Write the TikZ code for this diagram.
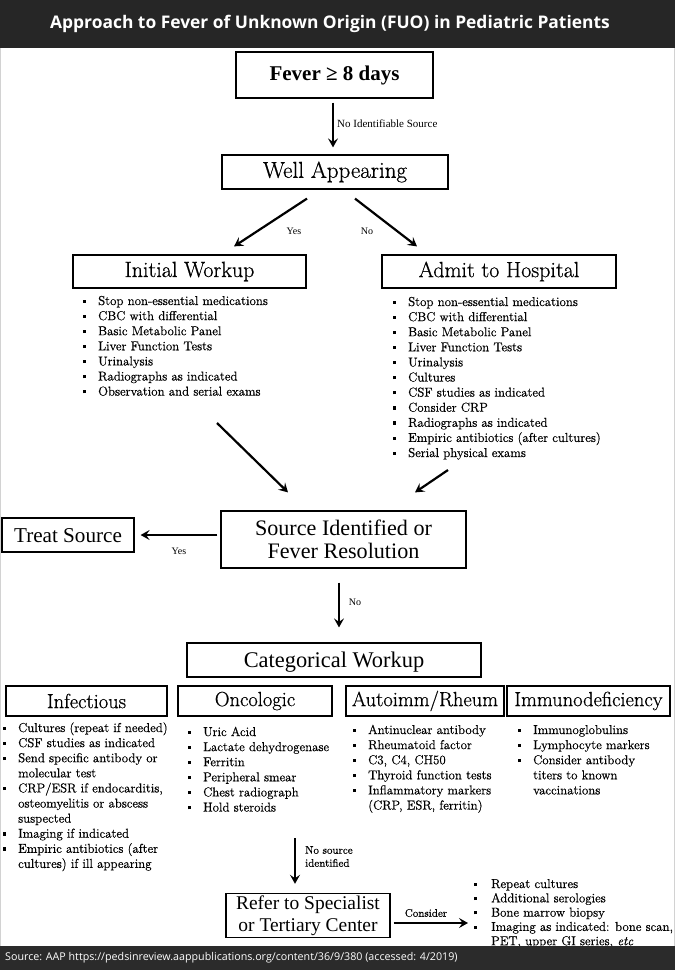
\documentclass[tikz,border=0pt]{standalone}
\usepackage{fontspec}
\newfontfamily\tms{Liberation Serif}
\newfontfamily\pal{Latin Modern Roman}[FakeBold=0.6]
\newfontfamily\osans{Open Sans}
\usetikzlibrary{arrows.meta,calc}
\newcommand\bu{\makebox[15pt][l]{\rule[2.2pt]{3pt}{3.2pt}}}
\newcommand\rbu{\makebox[17pt][l]{\rule[2.2pt]{3pt}{3.2pt}}}
\newcommand\cn{\hspace*{15pt}}
\newcommand\rcn{\hspace*{17pt}}
\newcommand\lstx[1]{\begin{tabular}[t]{@{}l@{}}#1\end{tabular}}
% Times-like text set at 14pt and scaled; #4 = downward shift of the ink
\newcommand\tsc[4]{\raisebox{-#4}[\height][\depth]{\scalebox{#1}{\tms\fontsize{14}{#2}\selectfont\begin{tabular}{@{}c@{}}#3\end{tabular}}}}
\begin{document}
\begin{tikzpicture}[x=1pt,y=-1pt,
  box/.style={draw=black, line width=1.2pt, inner sep=0pt, align=center},
  arr/.style={-{Stealth[length=9pt,width=10pt,inset=3.5pt]}, line width=2.2pt},
  lst/.style={anchor=base west, inner sep=0pt, font=\pal\fontsize{12.9}{15.1}\selectfont},
  lbl/.style={inner sep=0pt, font=\tms\fontsize{10}{12}\selectfont},
  hdp/.style={font=\pal\fontsize{22}{24}\selectfont},
  hdc/.style={font=\pal\fontsize{20.5}{22}\selectfont}]
\useasboundingbox (0,0) rectangle (675,970);
\fill[white] (0,0) rectangle (675,970);
\draw[gray!35, line width=0.8pt] (0.5,48) -- (0.5,946) (674.5,48) -- (674.5,946);
% title bar
\fill[black!85] (0,0) rectangle (675,48);
\node[text=white, font=\osans\bfseries\fontsize{17.4}{20}\selectfont] (title) at (330,24) {Approach to Fever of Unknown Origin (FUO) in Pediatric Patients};

% boxes
\node[box, minimum width=197pt, minimum height=46pt, font=\tms\bfseries\fontsize{21}{23}\selectfont] (fever) at (334.5,75) {Fever ≥ 8 days};
\node[box, minimum width=226pt, minimum height=34pt, font=\pal\fontsize{23}{25}\selectfont] (well) at (335,172) {Well Appearing};
\node[box, hdp, minimum width=233pt, minimum height=33pt] (init) at (189.5,271.5) {Initial Workup};
\node[box, hdp, minimum width=234pt, minimum height=33pt] (admit) at (499,271.5) {Admit to Hospital};
\node[box, minimum width=245pt, minimum height=57pt] (source) at (343.5,539.5) {\tsc{1.58}{14.6}{Source Identified or\\Fever Resolution}{2.6pt}};
\node[box, minimum width=132pt, minimum height=34pt] (treat) at (68,535) {\tsc{1.51}{15}{Treat Source}{2.5pt}};
\node[box, minimum width=294pt, minimum height=34pt] (cat) at (334,660) {\tsc{1.6}{15}{Categorical Workup}{2.5pt}};
\node[box, hdc, minimum width=161pt, minimum height=30pt] (inf) at (86.5,701) {Infectious};
\node[box, hdc, minimum width=154pt, minimum height=30pt] (onc) at (255,701) {Oncologic};
\node[box, hdc, minimum width=158pt, minimum height=30pt] (auto) at (425,701) {Autoimm/Rheum};
\node[box, hdc, minimum width=163pt, minimum height=30pt] (imm) at (588.5,701) {Immunodeficiency};
\node[box, minimum width=164pt, minimum height=43pt] (refer) at (308,915.5) {\tsc{1.39}{15.9}{Refer to Specialist\\or Tertiary Center}{0.5pt}};

% lists
\node[lst] (initl) at (83,305) {\lstx{\bu Stop non-essential medications\\
\bu CBC with differential\\
\bu Basic Metabolic Panel\\
\bu Liver Function Tests\\
\bu Urinalysis\\
\bu Radiographs as indicated\\
\bu Observation and serial exams}};
\node[lst] (admitl) at (393,306) {\lstx{\bu Stop non-essential medications\\
\bu CBC with differential\\
\bu Basic Metabolic Panel\\
\bu Liver Function Tests\\
\bu Urinalysis\\
\bu Cultures\\
\bu CSF studies as indicated\\
\bu Consider CRP\\
\bu Radiographs as indicated\\
\bu Empiric antibiotics (after cultures)\\
\bu Serial physical exams}};
\node[lst] (infl) at (3,732) {\lstx{\bu Cultures (repeat if needed)\\
\bu CSF studies as indicated\\
\bu Send specific antibody or\\
\cn molecular test\\
\bu CRP/ESR if endocarditis,\\
\cn osteomyelitis or abscess\\
\cn suspected\\
\bu Imaging if indicated\\
\bu Empiric antibiotics (after\\
\cn cultures) if ill appearing}};
\node[lst] (oncl) at (188,736) {\lstx{\bu Uric Acid\\
\bu Lactate dehydrogenase\\
\bu Ferritin\\
\bu Peripheral smear\\
\bu Chest radiograph\\
\bu Hold steroids}};
\node[lst] (autol) at (353,734) {\lstx{\bu Antinuclear antibody\\
\bu Rheumatoid factor\\
\bu C3, C4, CH50\\
\bu Thyroid function tests\\
\bu Inflammatory markers\\
\cn (CRP, ESR, ferritin)}};
\node[lst] (imml) at (518,734) {\lstx{\bu Immunoglobulins\\
\bu Lymphocyte markers\\
\bu Consider antibody\\
\cn titers to known\\
\cn vaccinations}};
\node[lst, font=\pal\fontsize{12.9}{14.3}\selectfont] (rightl) at (474,888) {\lstx{\rbu Repeat cultures\\
\rbu Additional serologies\\
\rbu Bone marrow biopsy\\
\rbu Imaging as indicated: bone scan,\\
\rcn PET, upper GI series, \textit{etc}}};

% connectors
\draw[arr, shorten <=4pt, shorten >=7pt] ([xshift=-1.5pt]fever.south) -- ([xshift=-1.5pt]fever.south |- well.north);
\node[lbl, anchor=west, font=\tms\fontsize{11}{12}\selectfont] (l1) at (337,124) {No Identifiable Source};
\draw[arr] ([xshift=-28pt,yshift=-9pt]well.south) -- ([xshift=44.5pt,yshift=8pt]init.north);
\draw[arr] ([xshift=20pt,yshift=-9pt]well.south) -- ([xshift=-82pt,yshift=8pt]admit.north);
\node[lbl] (lyes1) at (294,231) {Yes};
\node[lbl] (lno1) at (367,231) {No};
\coordinate (c1) at (217,423);
\coordinate (c2) at (448,470);
\draw[arr] (c1) -- ([xshift=-55.5pt,yshift=18pt]source.north);
\draw[arr] (c2) -- ([xshift=71.5pt,yshift=18pt]source.north);
\draw[arr, shorten >=6pt] ([xshift=-3pt]source.west |- treat.east) -- (treat.east);
\node[lbl] (lyes2) at (179,551) {Yes};
\draw[arr, shorten <=14pt, shorten >=15pt] ([xshift=-4.5pt]source.south) -- ([xshift=-4.5pt]source.south |- cat.north);
\node[lbl] (lno2) at (355,602) {No};
\coordinate (c3) at (295,838);
\draw[arr, shorten >=9pt] (c3) -- (c3 |- refer.north);
\node[lbl, anchor=north west, align=left, font=\pal\fontsize{11}{13}\selectfont] (l3) at (305,846) {No source\\identified};
\coordinate (c4) at (468,923);
\draw[arr, shorten <=3pt] ([yshift=-7.5pt]refer.east) -- (c4);
\node[lbl, font=\pal\fontsize{11}{13}\selectfont] (l4) at (426,913) {Consider};

% footer bar
\fill[black!83] (0,946) rectangle (675,970);
\node[text=white, anchor=west, inner sep=0pt, font=\osans\fontsize{10.7}{12}\selectfont] (src) at (5,958) {Source: AAP https://pedsinreview.aappublications.org/content/36/9/380 (accessed: 4/2019)};
\end{tikzpicture}
\end{document}
